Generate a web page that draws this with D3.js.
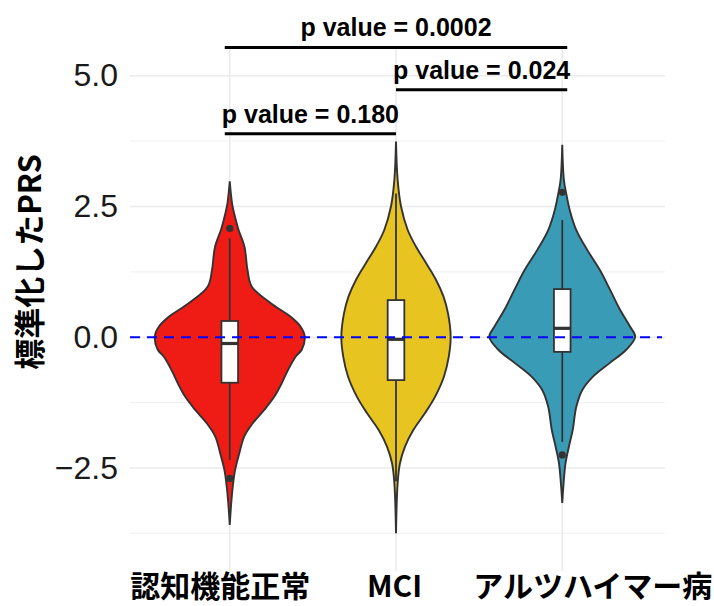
<!DOCTYPE html>
<html lang="ja">
<head>
<meta charset="utf-8">
<title>標準化したPRS</title>
<script src="https://d3js.org/d3.v7.min.js"></script>
<style>
	body { margin: 0; background: #fff; }
</style>
</head>
<body>
<script>

// categories
let groups = ["認知機能正常", "MCI", "アルツハイマー病"];

// violin outlines: PRS value and density
let normalY = [2.98, 2.56, 2.37, 2.08, 1.73, 1.29, 0.97, 0.65, 0.39, 0.20, 0.01, -0.24, -0.37, -0.63, -0.88, -1.14, -1.39, -1.65, -1.90, -2.22, -2.54, -2.86, -3.17, -3.59];
let normalDens = [0, .017, .032, .061, .108, .130, .161, .301, .447, .520, .550, .528, .484, .427, .381, .326, .253, .167, .106, .070, .039, .022, .011, 0];

let mciY = [3.74, 3.01, 2.50, 2.05, 1.73, 1.42, 1.10, 0.78, 0.46, 0.01, -0.37, -0.75, -1.14, -1.45, -1.77, -2.09, -2.41, -2.79, -3.75];
let mciDens = [0, .012, .037, .086, .147, .220, .293, .348, .381, .401, .387, .352, .286, .213, .128, .066, .029, .012, 0];

let adY = [3.68, 3.01, 2.75, 2.43, 2.05, 1.67, 1.29, 0.90, 0.52, 0.20, 0.01, -0.24, -0.50, -0.75, -1.01, -1.33, -1.77, -2.09, -2.41, -2.79, -3.17];
let adDens = [0, .012, .029, .055, .103, .183, .275, .352, .425, .498, .535, .469, .345, .227, .147, .103, .077, .049, .024, .010, 0];

// boxplot stats, one per group
let q1 = [-0.87, -0.82, -0.28];
let median = [-0.12, -0.04, 0.17];
let q3 = [0.31, 0.71, 0.92];
let whiskLow = [-2.35, -2.76, -2.00];
let whiskHigh = [1.89, 2.75, 2.24];
let normalOut = [2.08, -2.70];
let mciOut = [];
let adOut = [2.77, -2.25];

// y ticks
let yTicks = [-2.5, 0, 2.5, 5];
let yMinor = [-3.75, -1.25, 1.25, 3.75];

// significance brackets (x in group positions 1..3, y in PRS units)
let pLabels = ["p value = 0.0002", "p value = 0.024", "p value = 0.180"];
let pFrom = [0.97, 2.0, 0.97];
let pTo = [3.03, 3.03, 2.0];
let pY = [5.54, 4.73, 3.89];

let violins = [
	{ ys: normalY, dens: normalDens, out: normalOut },
	{ ys: mciY, dens: mciDens, out: mciOut },
	{ ys: adY, dens: adDens, out: adOut }
];
let fills = ["#EF1C15", "#E8C420", "#3A9BB6"];
let labelNudge = [-10, -2, 30];

let w = 714;
let h = 606;
let panelL = 130, panelR = 662, panelT = 48, panelB = 571;

let x = d3.scalePoint()
	.domain(groups)
	.range([panelL, panelR])
	.padding(0.6);

let xPos = d3.scaleLinear()
	.domain([1, 3])
	.range([x(groups[0]), x(groups[2])]);

let y = d3.scaleLinear()
	.domain([-4.47, 5.53])
	.range([panelB, panelT]);

let half = d3.scaleLinear()
	.domain([0, 0.55])
	.range([0, 75]);

let svg = d3.select("body")
	.append("svg")
	.attr("width", w)
	.attr("height", h)
	.style("font-family", "'Liberation Sans', Arial, sans-serif");

//grid
svg.selectAll("line.minor")
	.data(yMinor)
	.enter()
	.append("line")
	.attr("class", "minor")
	.attr("x1", panelL).attr("x2", panelR + 3)
	.attr("y1", d => y(d)).attr("y2", d => y(d))
	.attr("stroke", "#f1f1f1")
	.attr("stroke-width", 1);

svg.selectAll("line.major")
	.data(yTicks)
	.enter()
	.append("line")
	.attr("class", "major")
	.attr("x1", panelL).attr("x2", panelR + 3)
	.attr("y1", d => y(d)).attr("y2", d => y(d))
	.attr("stroke", "#ebebeb")
	.attr("stroke-width", 1.6);

svg.selectAll("line.vgrid")
	.data(groups)
	.enter()
	.append("line")
	.attr("class", "vgrid")
	.attr("x1", d => x(d)).attr("x2", d => x(d))
	.attr("y1", panelT).attr("y2", panelB)
	.attr("stroke", "#ebebeb")
	.attr("stroke-width", 1.6);

//violins
let area = d3.area()
	.curve(d3.curveCatmullRom.alpha(0.5))
	.y(d => y(d[0]));

violins.forEach(function (v, i) {
	let cx = x(groups[i]);
	let pts = v.ys.map((val, j) => [val, v.dens[j]]);
	svg.append("path")
		.datum(pts)
		.attr("d", area.x0(d => cx - half(d[1])).x1(d => cx + half(d[1])))
		.attr("fill", fills[i])
		.attr("stroke", "#333")
		.attr("stroke-width", 1.9);
});

//boxplots
let bw = x.step() * 0.1;
groups.forEach(function (g, i) {
	let cx = x(g);
	svg.append("line")
		.attr("x1", cx).attr("x2", cx)
		.attr("y1", y(whiskLow[i])).attr("y2", y(whiskHigh[i]))
		.attr("stroke", "#333")
		.attr("stroke-width", 1.8);
	svg.append("rect")
		.attr("x", cx - bw / 2)
		.attr("y", y(q3[i]))
		.attr("width", bw)
		.attr("height", y(q1[i]) - y(q3[i]))
		.attr("fill", "#fff")
		.attr("stroke", "#333")
		.attr("stroke-width", 1.8);
	svg.append("line")
		.attr("x1", cx - bw / 2).attr("x2", cx + bw / 2)
		.attr("y1", y(median[i])).attr("y2", y(median[i]))
		.attr("stroke", "#333")
		.attr("stroke-width", 3.2);
	svg.selectAll("circle.o" + i)
		.data(violins[i].out)
		.enter()
		.append("circle")
		.attr("cx", cx)
		.attr("cy", d => y(d))
		.attr("r", 3.6)
		.attr("fill", "#333");
});

//reference line at 0
svg.append("line")
	.attr("x1", panelL).attr("x2", panelR)
	.attr("y1", y(0)).attr("y2", y(0))
	.attr("stroke", "#0000ff")
	.attr("stroke-width", 2)
	.attr("stroke-dasharray", "10,7");

//brackets
svg.selectAll("line.bracket")
	.data(pLabels)
	.enter()
	.append("line")
	.attr("class", "bracket")
	.attr("x1", (d, i) => xPos(pFrom[i]))
	.attr("x2", (d, i) => xPos(pTo[i]))
	.attr("y1", (d, i) => y(pY[i]))
	.attr("y2", (d, i) => y(pY[i]))
	.attr("stroke", "#000")
	.attr("stroke-width", 3);

svg.selectAll("text.plabel")
	.data(pLabels)
	.enter()
	.append("text")
	.attr("class", "plabel")
	.text(d => d)
	.attr("x", (d, i) => (xPos(pFrom[i]) + xPos(pTo[i])) / 2)
	.attr("y", (d, i) => y(pY[i]) - 11)
	.attr("text-anchor", "middle")
	.attr("font-size", "25px")
	.attr("font-weight", "bold")
	.attr("fill", "#000");

//y axis
let yAxis = d3.axisLeft(y)
	.tickValues(yTicks)
	.tickFormat(d3.format(".1f"))
	.tickSize(0)
	.tickPadding(12);

let gy = svg.append("g")
	.attr("transform", "translate(" + panelL + ",0)")
	.call(yAxis);
gy.select(".domain").remove();
gy.selectAll("text")
	.attr("font-size", "32px")
	.attr("font-family", "'Liberation Sans', Arial, sans-serif")
	.attr("fill", "#1a1a1a");

//x axis
let xAxis = d3.axisBottom(x).tickSize(0);
let gx = svg.append("g")
	.attr("transform", "translate(0," + panelB + ")")
	.call(xAxis);
gx.select(".domain").remove();
gx.selectAll("text")
	.attr("y", 26)
	.attr("dy", null)
	.attr("dx", (d, i) => labelNudge[i])
	.attr("font-size", "30px")
	.attr("font-weight", "bold")
	.attr("font-family", "'Noto Sans CJK JP', sans-serif")
	.attr("fill", "#000");

//y title
svg.append("text")
	.text("標準化したPRS")
	.attr("transform", "translate(41,262) rotate(-90)")
	.attr("text-anchor", "middle")
	.attr("font-size", "31px")
	.attr("font-weight", "bold")
	.attr("font-family", "'Noto Sans CJK JP', sans-serif")
	.attr("fill", "#000");

</script>
</body>
</html>
